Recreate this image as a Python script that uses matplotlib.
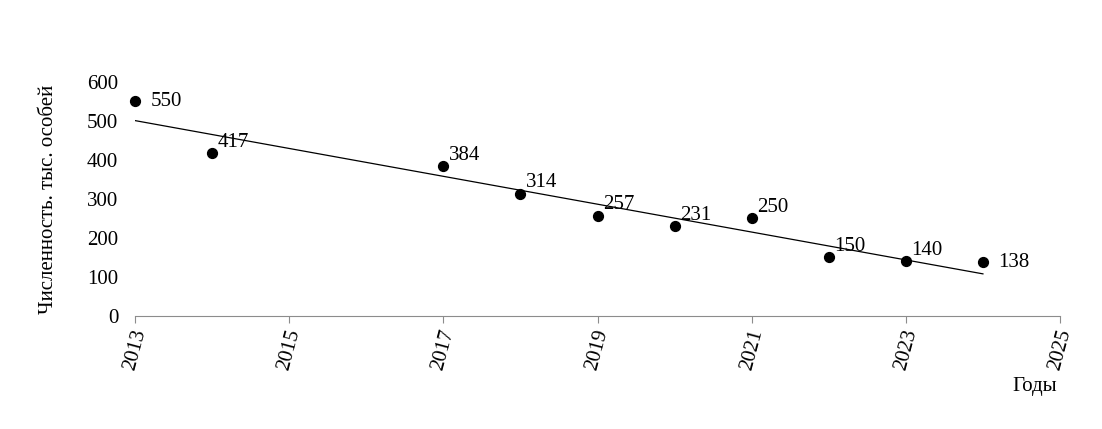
import matplotlib.pyplot as plt
import numpy as np

# данные
years = [2013, 2014, 2017, 2018, 2019, 2020, 2021, 2022, 2023, 2024]
values = [550, 417, 384, 314, 257, 231, 250, 150, 140, 138]
x_ticks = [2013, 2015, 2017, 2019, 2021, 2023, 2025]
y_ticks = [0, 100, 200, 300, 400, 500, 600]

plt.rcParams["font.family"] = ["Liberation Serif", "DejaVu Serif"]

fig = plt.figure(figsize=(11.02, 4.29), dpi=100)
ax = fig.add_axes([0.1225, 0.2634, 0.8394, 0.5455])

ax.scatter(years, values, s=50, color="black", zorder=3, clip_on=False)

# линейный тренд
k, b = np.polyfit(years, values, 1)
xt = np.array([years[0], years[-1]])
ax.plot(xt, k * xt + b, color="black", linewidth=0.9)

for x, y in zip(years, values):
    if x in (2013, 2024):
        off, va = (11, 0), "center"
    else:
        off, va = (4, 1), "bottom"
    ax.annotate(str(y), (x, y), xytext=off, textcoords="offset points",
                fontsize=15, va=va, ha="left")

ax.set_xlim(2013, 2025)
ax.set_ylim(0, 600)
ax.set_xticks(x_ticks)
ax.set_yticks(y_ticks)
ax.set_xticklabels([str(t) for t in x_ticks], rotation=75, fontsize=15)
ax.tick_params(axis="y", length=0, labelsize=15, pad=12)
ax.tick_params(axis="x", length=5, color="#8c8c8c", pad=3)

for s in ["top", "right", "left"]:
    ax.spines[s].set_visible(False)
ax.spines["bottom"].set_color("#8c8c8c")

ax.set_ylabel("Численность. тыс. особей", fontsize=15, labelpad=21)
fig.text(0.939, 0.10, "Годы", fontsize=15, ha="center", va="center")

plt.savefig("out.png", dpi=100)
